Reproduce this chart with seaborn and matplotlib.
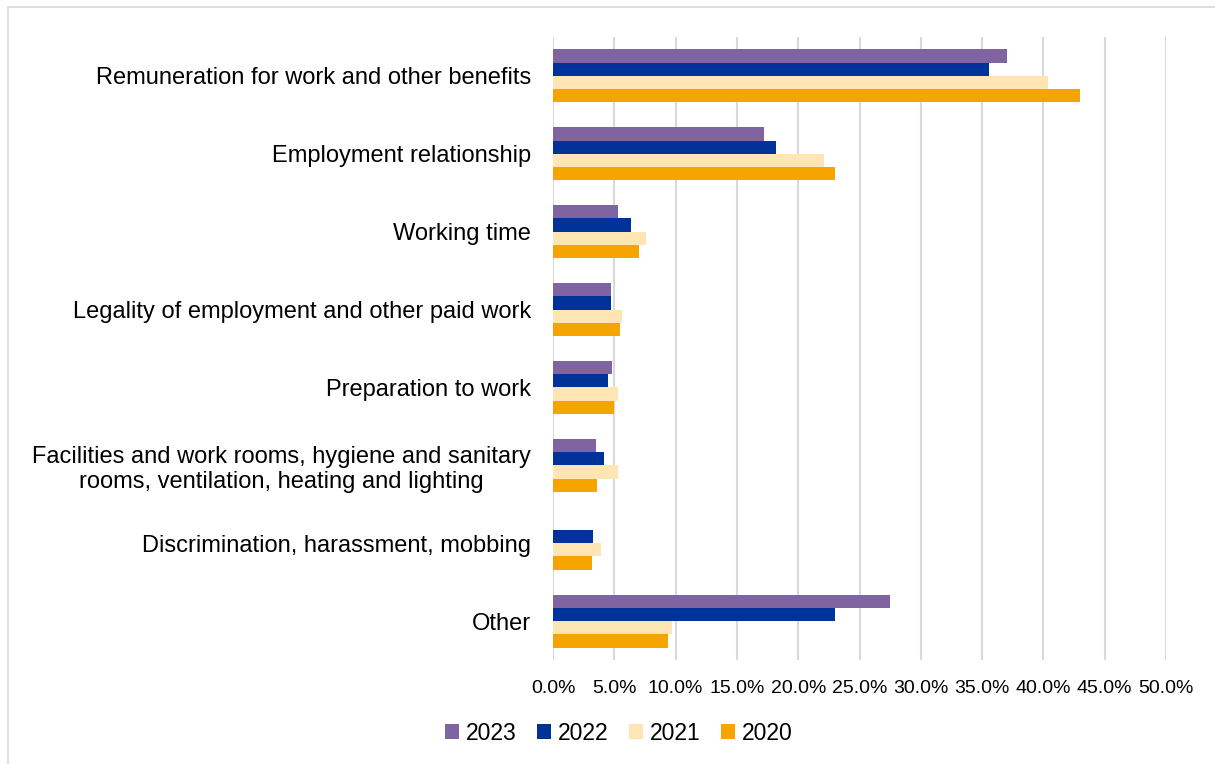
import matplotlib
matplotlib.use("Agg")
import matplotlib.pyplot as plt
import seaborn as sns
import pandas as pd
from matplotlib.patches import Rectangle
from matplotlib.ticker import FuncFormatter, MultipleLocator

categories = [
    "Remuneration for work and other benefits",
    "Employment relationship",
    "Working time",
    "Legality of employment and other paid work",
    "Preparation to work",
    "Facilities and work rooms, hygiene and sanitary\nrooms, ventilation, heating and lighting",
    "Discrimination, harassment, mobbing",
    "Other",
]
years = ["2023", "2022", "2021", "2020"]
v2023 = [37.0, 17.2, 5.3, 4.7, 4.8, 3.5, 0.0, 27.5]
v2022 = [35.6, 18.2, 6.4, 4.7, 4.5, 4.2, 3.3, 23.0]
v2021 = [40.4, 22.1, 7.6, 5.6, 5.3, 5.3, 3.9, 9.7]
v2020 = [43.0, 23.0, 7.0, 5.5, 5.0, 3.6, 3.2, 9.4]
colors = ["#8064A2", "#003399", "#FFE5B4", "#F5A400"]

series = {"2023": v2023, "2022": v2022, "2021": v2021, "2020": v2020}
rows = []
for y in years:
    for c, v in zip(categories, series[y]):
        rows.append({"category": c, "year": y, "value": v / 100.0})
df = pd.DataFrame(rows)

sns.set_theme(style="white")
plt.rcParams["font.family"] = ["Liberation Sans", "DejaVu Sans"]

fig = plt.figure(figsize=(12.15, 7.64), dpi=100)
ax = fig.add_axes([553 / 1215, 1 - 660 / 764, (1166 - 553) / 1215, (660 - 37) / 764])

sns.barplot(data=df, y="category", x="value", hue="year", order=categories,
            hue_order=years, palette=colors, orient="h", width=0.68,
            saturation=1, linewidth=0, ax=ax, legend=True)

ax.set_xlim(0, 0.5)
ax.set_ylim(7.5, -0.5)
ax.xaxis.set_major_locator(MultipleLocator(0.05))
ax.xaxis.set_major_formatter(FuncFormatter(lambda v, p: f"{v*100:.1f}%"))
ax.grid(axis="x", color="#D9D9D9", linewidth=1.5)
ax.set_axisbelow(True)
for s in ax.spines.values():
    s.set_visible(False)
ax.set_xlabel("")
ax.set_ylabel("")
ax.tick_params(axis="x", labelsize=14, labelcolor="black", length=0, pad=14.5)
ax.tick_params(axis="y", labelsize=17, labelcolor="black", length=0, pad=16)
for lab in ax.get_yticklabels():
    lab.set_horizontalalignment("right")
    lab.set_multialignment("center")

handles, labels = ax.get_legend_handles_labels()
ax.legend_.remove()
fig.legend(handles, labels, loc="center", bbox_to_anchor=(619 / 1215, 1 - 733 / 764),
           ncol=4, frameon=False, fontsize=16.5, handlelength=0.6, handleheight=0.6,
           handletextpad=0.3, columnspacing=0.9, labelcolor="black")

fig.patches.append(Rectangle((8 / 1215, -0.01), 1.02, 1 - 7 / 764 + 0.01,
                             transform=fig.transFigure, fill=False,
                             edgecolor="#D9D9D9", linewidth=1.2))

fig.savefig("out.png", dpi=100, facecolor="white")
